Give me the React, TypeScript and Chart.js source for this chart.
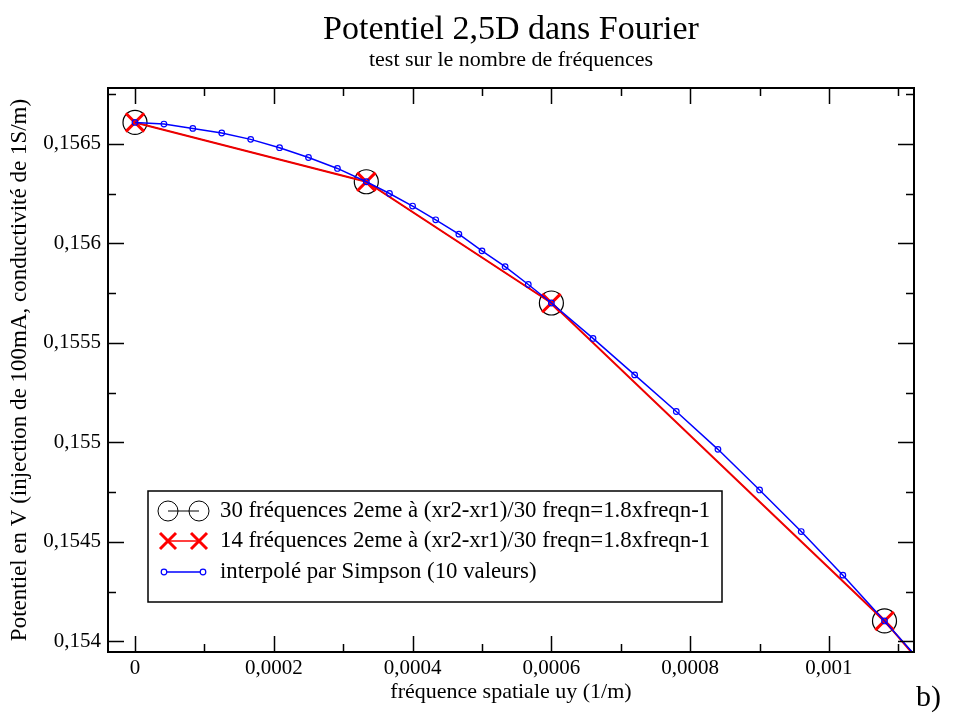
import React, { useEffect, useRef } from 'react';
import { Chart, registerables } from 'chart.js';

Chart.register(...registerables);

const TITLE = 'Potentiel 2,5D dans Fourier';
const SUBTITLE = 'test sur le nombre de fréquences';
const X_LABEL = 'fréquence spatiale uy (1/m)';
const Y_LABEL = 'Potentiel en V (injection de 100mA, conductivité de 1S/m)';
const CORNER_LABEL = 'b)';
const LEGEND_LABELS = [
  '30 fréquences 2eme à (xr2-xr1)/30 freqn=1.8xfreqn-1',
  '14 fréquences 2eme à (xr2-xr1)/30 freqn=1.8xfreqn-1',
  'interpolé par Simpson (10 valeurs)',
];

// 30 frequencies
const freq30X = [0, 0.0003333, 0.0006, 0.00108, 0.001944];
const freq30Y = [0.156607, 0.156309, 0.1557, 0.154103, 0.150604];
// 14 frequencies
const freq14X = [0, 0.0003333, 0.0006, 0.00108, 0.001944];
const freq14Y = [0.156607, 0.156309, 0.1557, 0.154103, 0.150604];
// Simpson interpolation
const simpsonX = [
  0, 0.0000417, 0.0000833, 0.000125, 0.0001667, 0.0002083, 0.00025, 0.0002917, 0.0003333,
  0.0003667, 0.0004, 0.0004333, 0.0004667, 0.0005, 0.0005333, 0.0005667, 0.0006,
  0.00066, 0.00072, 0.00078, 0.00084, 0.0009, 0.00096, 0.00102, 0.00108, 0.001188,
];
const simpsonY = [
  0.156607, 0.156599, 0.156577, 0.156554, 0.156522, 0.15648, 0.156431, 0.156376, 0.156309,
  0.15625, 0.156187, 0.156118, 0.156046, 0.155962, 0.155883, 0.155793, 0.1557,
  0.155522, 0.155339, 0.155155, 0.154965, 0.154761, 0.154552, 0.154333, 0.154103, 0.15368,
];

const xTicks = [0, 0.0002, 0.0004, 0.0006, 0.0008, 0.001];
const xMinorTicks = [0.0001, 0.0003, 0.0005, 0.0007, 0.0009, 0.0011];
const yTicks = [0.154, 0.1545, 0.155, 0.1555, 0.156, 0.1565];
const yMinorTicks = [0.15425, 0.15475, 0.15525, 0.15575, 0.15625, 0.15675];
const xRange = [-0.0000389, 0.0011225];
const yRange = [0.153947, 0.15678];

const FONT = 'Liberation Serif';

const fmt = (v: number) => parseFloat(Number(v).toPrecision(6)).toString().replace('.', ',');

const toPoints = (xs: number[], ys: number[]) => xs.map((x, i) => ({ x, y: ys[i] }));

const decorPlugin = {
  id: 'decor',
  afterDatasetsDraw(chart: any) {
    const { ctx, chartArea: a, scales } = chart;
    const xs = scales.x;
    const ys = scales.y;
    ctx.save();
    ctx.strokeStyle = '#000';
    ctx.lineWidth = 1.5;
    ctx.beginPath();
    const vx = (v: number, len: number) => {
      const p = Math.round(xs.getPixelForValue(v)) + 0.5;
      if (p < a.left || p > a.right) return;
      ctx.moveTo(p, a.bottom);
      ctx.lineTo(p, a.bottom - len);
      ctx.moveTo(p, a.top);
      ctx.lineTo(p, a.top + len);
    };
    const vy = (v: number, len: number) => {
      const p = Math.round(ys.getPixelForValue(v)) + 0.5;
      if (p < a.top || p > a.bottom) return;
      ctx.moveTo(a.left, p);
      ctx.lineTo(a.left + len, p);
      ctx.moveTo(a.right, p);
      ctx.lineTo(a.right - len, p);
    };
    xTicks.forEach((v) => vx(v, 16));
    xMinorTicks.forEach((v) => vx(v, 8));
    yTicks.forEach((v) => vy(v, 16));
    yMinorTicks.forEach((v) => vy(v, 8));
    ctx.stroke();

    ctx.lineWidth = 2;
    ctx.strokeRect(a.left, a.top, a.right - a.left, a.bottom - a.top);

    // titles (centred on the plot area)
    const cx0 = (a.left + a.right) / 2;
    ctx.fillStyle = '#000';
    ctx.textAlign = 'center';
    ctx.textBaseline = 'alphabetic';
    ctx.font = `34px "${FONT}"`;
    ctx.fillText(TITLE, cx0, 39);
    ctx.font = `22px "${FONT}"`;
    ctx.fillText(SUBTITLE, cx0, 66);

    // legend
    const lx = 148, ly = 491, lw = 574, lh = 111;
    ctx.fillStyle = '#fff';
    ctx.fillRect(lx, ly, lw, lh);
    ctx.lineWidth = 1.5;
    ctx.strokeStyle = '#000';
    ctx.strokeRect(lx, ly, lw, lh);

    const rows = [511, 541, 572];
    const s1 = 168, s2 = 199;
    // row 1: black circles
    ctx.strokeStyle = '#000';
    ctx.lineWidth = 1;
    ctx.beginPath();
    ctx.moveTo(s1, rows[0]);
    ctx.lineTo(s2, rows[0]);
    ctx.stroke();
    [s1, s2].forEach((cx) => {
      ctx.beginPath();
      ctx.arc(cx, rows[0], 10, 0, Math.PI * 2);
      ctx.stroke();
    });
    // row 2: red crosses
    ctx.strokeStyle = '#ff0000';
    ctx.lineWidth = 1.5;
    ctx.beginPath();
    ctx.moveTo(s1, rows[1]);
    ctx.lineTo(s2, rows[1]);
    ctx.stroke();
    ctx.lineWidth = 3;
    [s1, s2].forEach((cx) => {
      const d = 8;
      ctx.beginPath();
      ctx.moveTo(cx - d, rows[1] - d);
      ctx.lineTo(cx + d, rows[1] + d);
      ctx.moveTo(cx - d, rows[1] + d);
      ctx.lineTo(cx + d, rows[1] - d);
      ctx.stroke();
    });
    // row 3: blue line with small circles
    ctx.strokeStyle = '#0000ff';
    ctx.lineWidth = 1.5;
    ctx.beginPath();
    ctx.moveTo(s1 - 4, rows[2]);
    ctx.lineTo(s2 + 4, rows[2]);
    ctx.stroke();
    ctx.lineWidth = 1.2;
    [s1 - 4, s2 + 4].forEach((cx) => {
      ctx.beginPath();
      ctx.arc(cx, rows[2], 2.8, 0, Math.PI * 2);
      ctx.fillStyle = '#fff';
      ctx.fill();
      ctx.stroke();
    });

    ctx.fillStyle = '#000';
    ctx.font = `22.8px "${FONT}"`;
    ctx.textAlign = 'left';
    ctx.textBaseline = 'middle';
    LEGEND_LABELS.forEach((t, i) => ctx.fillText(t, 220, rows[i]));

    // corner label
    ctx.font = `30px "${FONT}"`;
    ctx.textBaseline = 'alphabetic';
    ctx.fillText(CORNER_LABEL, 916, 706);
    ctx.restore();
  },
};

export default function App() {
  const ref = useRef<HTMLCanvasElement | null>(null);

  useEffect(() => {
    const prevMargin = document.body.style.margin;
    document.body.style.margin = '0';
    const canvas = ref.current;
    if (!canvas) return;
    const chart = new Chart(canvas, {
      type: 'scatter',
      data: {
        datasets: [
          {
            label: LEGEND_LABELS[0],
            data: toPoints(freq30X, freq30Y),
            showLine: true,
            borderColor: '#000',
            borderWidth: 1,
            pointStyle: 'circle',
            pointRadius: 12,
            pointBorderWidth: 1.2,
            pointBorderColor: '#000',
            pointBackgroundColor: 'rgba(0,0,0,0)',
            order: 3,
            clip: 0,
          },
          {
            label: LEGEND_LABELS[1],
            data: toPoints(freq14X, freq14Y),
            showLine: true,
            borderColor: '#ee0000',
            borderWidth: 2,
            pointStyle: 'crossRot',
            pointRadius: 13,
            pointBorderWidth: 3,
            pointBorderColor: '#ff0000',
            pointBackgroundColor: '#ff0000',
            order: 2,
            clip: 0,
          },
          {
            label: LEGEND_LABELS[2],
            data: toPoints(simpsonX, simpsonY),
            showLine: true,
            borderColor: '#0000ff',
            borderWidth: 1.5,
            pointStyle: 'circle',
            pointRadius: 2.8,
            pointBorderWidth: 1.2,
            pointBorderColor: '#0000ff',
            pointBackgroundColor: 'rgba(255,255,255,0)',
            order: 1,
            clip: 0,
          },
        ],
      },
      options: {
        animation: false,
        responsive: false,
        maintainAspectRatio: false,
        devicePixelRatio: 1,
        layout: { padding: { left: 0, right: 39, top: 88, bottom: 0 } },
        plugins: {
          legend: { display: false },
          tooltip: { enabled: false },
          title: { display: false },
        },
        scales: {
          x: {
            type: 'linear',
            position: 'bottom',
            min: xRange[0],
            max: xRange[1],
            grid: { display: false, drawTicks: false },
            border: { display: false },
            afterBuildTicks: (scale: any) => {
              scale.ticks = xTicks.map((v) => ({ value: v }));
            },
            afterFit: (scale: any) => {
              scale.height = 61;
            },
            ticks: {
              color: '#000',
              font: { family: FONT, size: 21, lineHeight: 1.2 },
              padding: 4,
              maxRotation: 0,
              autoSkip: false,
              callback: (v: any) => fmt(v),
            },
            title: {
              display: true,
              text: X_LABEL,
              color: '#000',
              font: { family: FONT, size: 22, lineHeight: 1.2 },
              padding: { top: 0, bottom: 8 },
            },
          },
          y: {
            type: 'linear',
            position: 'left',
            min: yRange[0],
            max: yRange[1],
            grid: { display: false, drawTicks: false },
            border: { display: false },
            afterBuildTicks: (scale: any) => {
              scale.ticks = yTicks.map((v) => ({ value: v }));
            },
            afterFit: (scale: any) => {
              scale.width = 108;
            },
            ticks: {
              color: '#000',
              font: { family: FONT, size: 21, lineHeight: 1.2 },
              padding: 7,
              autoSkip: false,
              callback: (v: any) => fmt(v),
            },
            title: {
              display: true,
              text: Y_LABEL,
              color: '#000',
              font: { family: FONT, size: 23, lineHeight: 1.2 },
              padding: { top: 6, bottom: 0 },
            },
          },
        },
      },
      plugins: [decorPlugin],
    } as any);
    return () => {
      chart.destroy();
      document.body.style.margin = prevMargin;
    };
  }, []);

  return (
    <div style={{ position: 'absolute', left: 0, top: 0, width: 953, height: 713, background: '#fff' }}>
      <canvas ref={ref} width={953} height={713} style={{ display: 'block' }} />
    </div>
  );
}
